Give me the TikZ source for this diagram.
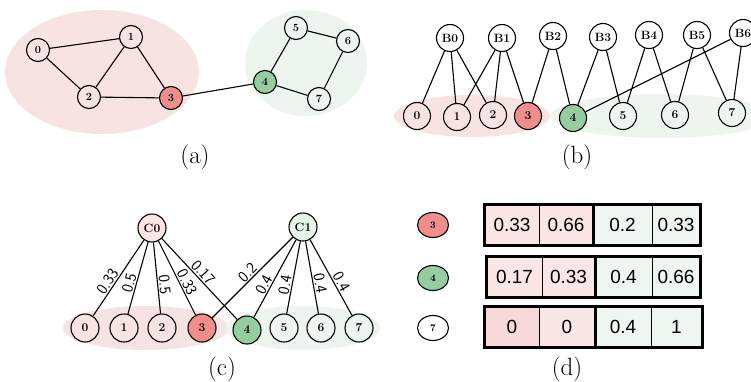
\documentclass[tikz,border=0pt]{standalone}
\usepackage{fontspec}
\newfontfamily\arial{Liberation Sans}
\usetikzlibrary{shapes.geometric}
\definecolor{pinkbg}{HTML}{F8E3E3}
\definecolor{greenbg}{HTML}{EEF5EF}
\definecolor{rednode}{HTML}{EF8E8C}
\definecolor{greennode}{HTML}{95CDA0}
\definecolor{pinkcell}{HTML}{FBE6E6}
\definecolor{pinkcelldark}{HTML}{F8D9D9}
\definecolor{greencell}{HTML}{EFF6F1}
\definecolor{c0fill}{HTML}{FAE4E4}
\definecolor{c1fill}{HTML}{E6F3E9}
\begin{document}
\begin{tikzpicture}[x=1pt,y=-1pt,
  vtx/.style={circle,draw,line width=1.1pt,minimum size=23pt,inner sep=0pt,font=\bfseries\fontsize{11}{11}\selectfont},
  bigvtx/.style={vtx,minimum size=27pt,font=\bfseries\fontsize{12}{12}\selectfont},
  dvtx/.style={ellipse,draw,line width=1.1pt,minimum width=31pt,minimum height=25pt,inner sep=0pt,font=\bfseries\fontsize{10}{10}\selectfont},
  redv/.style={fill=rednode},
  greenv/.style={fill=greennode},
  edge/.style={line width=1.1pt},
  wlabel/.style={above,sloped,inner sep=1pt,font=\sffamily\fontsize{16}{16}\selectfont},
  caption/.style={font=\fontsize{25}{25}\selectfont},
  cell/.style={rectangle,draw,line width=0.6pt,minimum height=40pt,inner sep=0pt,font=\arial\fontsize{19}{19}\selectfont},
  pc/.style={cell,fill=pinkcell},
  gc/.style={cell,fill=greencell},
  frame/.style={line width=2.6pt}
]
\useasboundingbox (0,0) rectangle (751,381);

% ---------- (a) ----------
\fill[pinkbg] (102,72) ellipse [x radius=97, y radius=62];
\fill[greenbg] (306,63) ellipse [x radius=61, y radius=53];
\node[vtx] (a0) at (38,50) {0};
\node[vtx] (a1) at (131,37) {1};
\node[vtx] (a2) at (89,97) {2};
\node[vtx,redv] (a3) at (171,98) {3};
\node[vtx,greenv] (a4) at (265,82) {4};
\node[vtx] (a5) at (296,28) {5};
\node[vtx] (a6) at (348,41) {6};
\node[vtx] (a7) at (319,99) {7};
\draw[edge] (a0)--(a1) (a0)--(a2) (a1)--(a2) (a1)--(a3) (a2)--(a3) (a3)--(a4)
  (a4)--(a5) (a5)--(a6) (a6)--(a7) (a4)--(a7);
\node[caption] (capa) at (195,157) {(a)};

% ---------- (b) ----------
\fill[pinkbg] (472,116) ellipse [x radius=78, y radius=21];
\fill[greenbg] (662,116) ellipse [x radius=112, y radius=22];
\node[bigvtx] (B0) at (450,38) {B0};
\node[bigvtx] (B1) at (502,38) {B1};
\node[bigvtx] (B2) at (553,36) {B2};
\node[bigvtx] (B3) at (603,37) {B3};
\node[bigvtx] (B4) at (649,35) {B4};
\node[bigvtx] (B5) at (697,35) {B5};
\node[bigvtx] (B6) at (743,33) {B6};
\node[bigvtx] (b0) at (417,116) {0};
\node[bigvtx] (b1) at (457,117) {1};
\node[bigvtx] (b2) at (493,115) {2};
\node[bigvtx,redv] (b3) at (528,116) {3};
\node[bigvtx,greenv] (b4) at (573,118) {4};
\node[bigvtx] (b5) at (623,116) {5};
\node[bigvtx] (b6) at (675,115) {6};
\node[bigvtx] (b7) at (732,113) {7};
\draw[edge] (B0)--(b0) (B0)--(b1) (B0)--(b2) (B1)--(b1) (B1)--(b2) (B1)--(b3)
  (B2)--(b3) (B2)--(b4) (B3)--(b4) (B3)--(b5) (B4)--(b5) (B4)--(b6)
  (B5)--(b6) (B5)--(b7) (B6)--(b4) (B6)--(b7);
\node[caption] (capb) at (577,157) {(b)};

% ---------- (c) ----------
\fill[pinkbg] (146,328) ellipse [x radius=83, y radius=22];
\fill[greenbg] (303,328) ellipse [x radius=77, y radius=22];
\node[bigvtx,minimum size=28pt,fill=c0fill] (C0) at (152,228) {C0};
\node[bigvtx,minimum size=28pt,fill=c1fill] (C1) at (303,227) {C1};
\node[bigvtx,minimum size=28pt] (c0) at (85,328) {0};
\node[bigvtx,minimum size=28pt] (c1) at (124,328) {1};
\node[bigvtx,minimum size=28pt] (c2) at (162,328) {2};
\node[bigvtx,minimum size=28pt,redv] (c3) at (202,328) {3};
\node[bigvtx,minimum size=28pt,greenv] (c4) at (247,330) {4};
\node[bigvtx,minimum size=28pt] (c5) at (284,328) {5};
\node[bigvtx,minimum size=28pt] (c6) at (321,328) {6};
\node[bigvtx,minimum size=28pt] (c7) at (359,328) {7};
\draw[edge] (C0)--(c0) node[wlabel,pos=0.6] {0.33};
\draw[edge] (C0)--(c1) node[wlabel,pos=0.6] {0.5};
\draw[edge] (C0)--(c2) node[wlabel,pos=0.6] {0.5};
\draw[edge] (C0)--(c3) node[wlabel,pos=0.6] {0.33};
\draw[edge] (C0)--(c4) node[wlabel,pos=0.48] {0.17};
\draw[edge] (C1)--(c3) node[wlabel,pos=0.5] {0.2};
\draw[edge] (C1)--(c4) node[wlabel,pos=0.62] {0.4};
\draw[edge] (C1)--(c5) node[wlabel,pos=0.62] {0.4};
\draw[edge] (C1)--(c6) node[wlabel,pos=0.6] {0.4};
\draw[edge] (C1)--(c7) node[wlabel,pos=0.6] {0.4};
\node[caption] (capc) at (222,369) {(c)};

% ---------- (d) ----------
\node[dvtx,redv] (d3) at (433,225) {3};
\node[dvtx,greenv] (d4) at (433,278) {4};
\node[dvtx] (d7) at (433,328) {7};

\node[pc,minimum width=54pt] (r1a) at (512,225) {0.33};
\node[pc,minimum width=54pt] (r1b) at (566,225) {0.66};
\node[gc,minimum width=59pt] (r1c) at (622.5,225) {0.2};
\node[gc,minimum width=48pt] (r1d) at (676,225) {0.33};
\draw[frame] (r1a.north west) rectangle (r1d.south east);
\draw[frame] (r1b.north east) -- (r1b.south east);

\node[pc,minimum width=55pt] (r2a) at (514.5,277) {0.17};
\node[pc,minimum width=53pt] (r2b) at (568.5,277) {0.33};
\node[gc,minimum width=57pt] (r2c) at (623.5,277) {0.4};
\node[gc,minimum width=48pt] (r2d) at (676,277) {0.66};
\draw[frame] (r2a.north west) rectangle (r2d.south east);
\draw[frame] (r2b.north east) -- (r2b.south east);

\node[cell,fill=pinkcelldark,minimum width=54pt] (r3a) at (512,327) {0};
\node[pc,minimum width=56pt] (r3b) at (567,327) {0};
\node[gc,minimum width=56pt] (r3c) at (623,327) {0.4};
\node[gc,minimum width=51pt] (r3d) at (676.5,327) {1};
\draw[frame] (r3a.north west) rectangle (r3d.south east);
\draw[frame] (r3b.north east) -- (r3b.south east);

\node[caption] (capd) at (567,369) {(d)};
\end{tikzpicture}
\end{document}
